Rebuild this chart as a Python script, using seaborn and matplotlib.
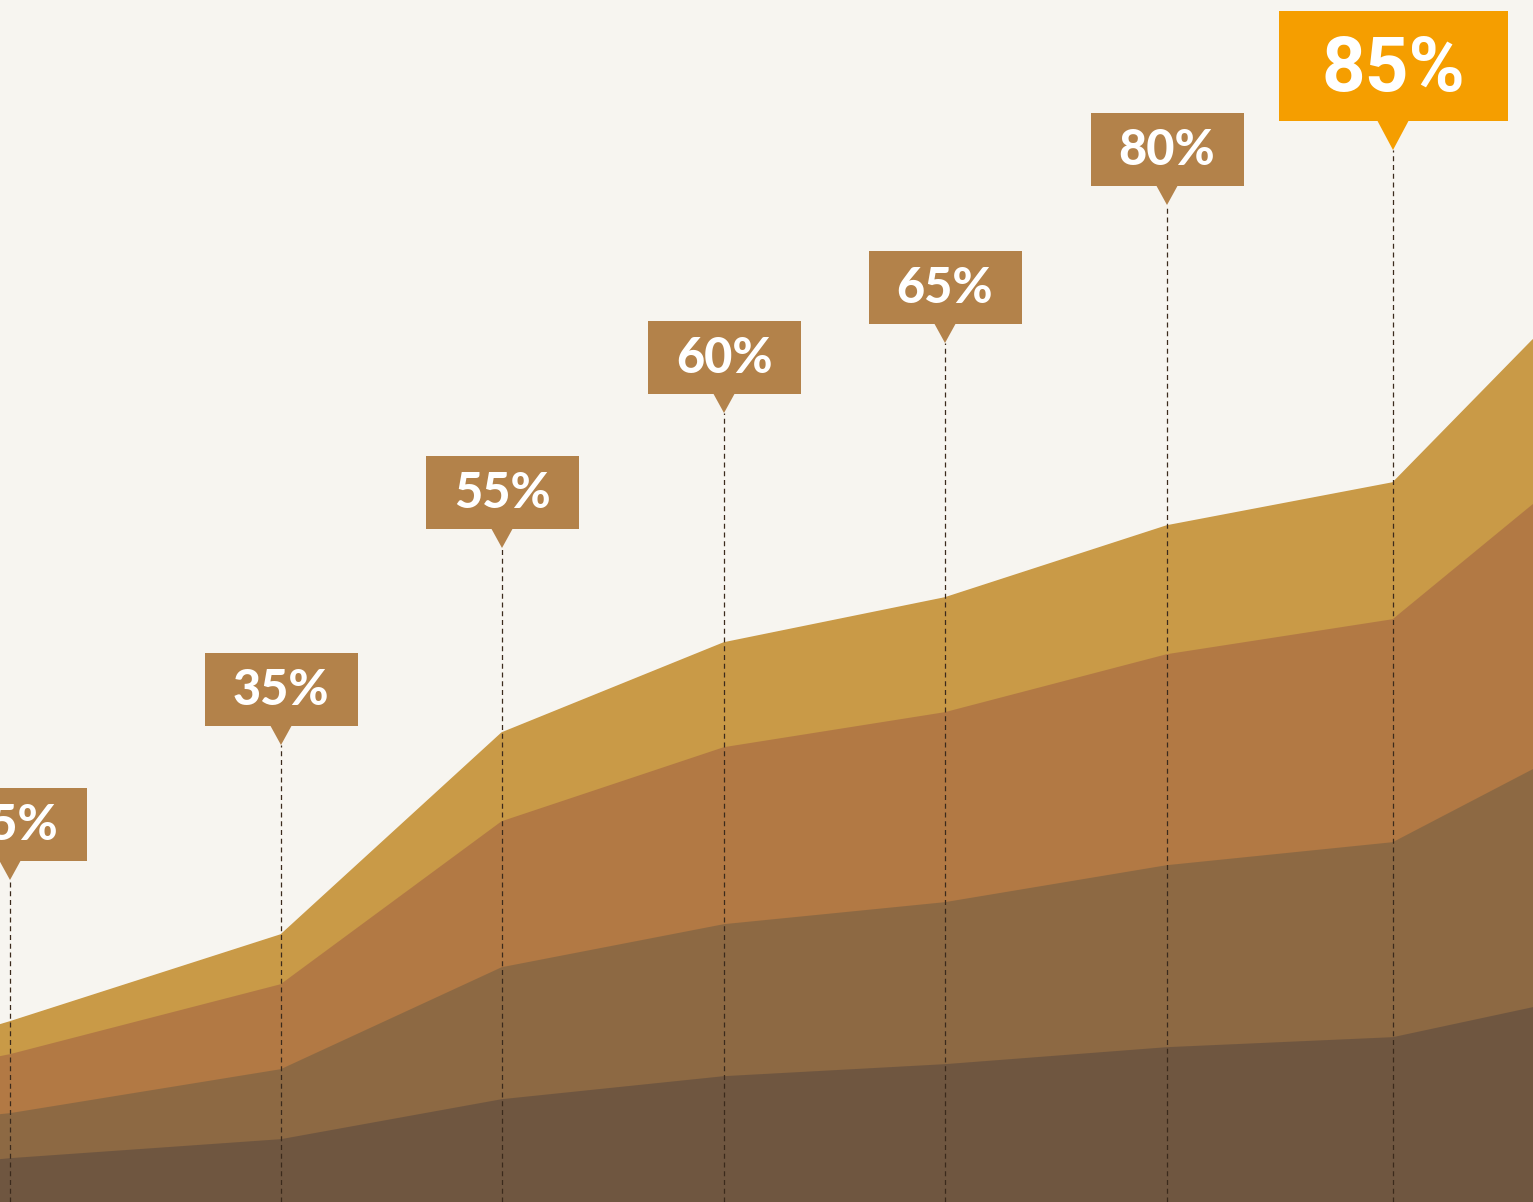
import matplotlib
matplotlib.use("Agg")
import matplotlib.pyplot as plt
import seaborn as sns
import numpy as np
import pandas as pd
from matplotlib.patches import Rectangle, Polygon

# ---- data ----
x_vals = [0, 10, 281, 502, 724, 945, 1167, 1393, 1533]
layer1 = [42, 43, 62, 102, 125, 137, 154, 164, 194]
layer2 = [45, 45, 70, 132, 152, 162, 182, 195, 238]
layer3 = [58, 59, 85, 146, 177, 190, 211, 223, 265]
layer4 = [32, 33, 50, 89, 105, 115, 129, 137, 165]

label_x = [10, 281, 502, 724, 945, 1167, 1393]
label_text = ["25%", "35%", "55%", "60%", "65%", "80%", "85%"]
label_tip = [322, 457, 654, 789, 859, 997, 1052]

layer_colors = ["#6F5640", "#8D6943", "#B27944", "#C99A47"]
bg = "#F7F5F0"
box_color = "#B3824A"
hl_color = "#F59E00"

sns.set_theme(style="white")
plt.rcParams["font.family"] = ["Lato", "DejaVu Sans"]

fig = plt.figure(figsize=(15.33, 12.02), dpi=100, facecolor=bg)
ax = fig.add_axes([0, 0, 1, 1])
ax.set_facecolor(bg)

layers = [layer1, layer2, layer3, layer4]
df = pd.DataFrame({"x": x_vals})
base = np.zeros(len(x_vals))
for i, (lay, col) in enumerate(zip(layers, layer_colors)):
    top = base + np.array(lay)
    ax.fill_between(x_vals, base, top, color=col, linewidth=0, zorder=1 + i * 0.1)
    df[f"top{i}"] = top
    base = top
for i, col in enumerate(layer_colors):
    sns.lineplot(data=df, x="x", y=f"top{i}", ax=ax, color=col, linewidth=1.2, zorder=2)

# dashed guide lines
for xv, tip in zip(label_x, label_tip):
    ax.plot([xv, xv], [0, tip], color="#3B2A1C", linewidth=0.9,
            dashes=(4, 3), zorder=3)

# callout boxes
for i, (xv, txt, tip) in enumerate(zip(label_x, label_text, label_tip)):
    big = (i == len(label_x) - 1)
    if big:
        w, h, th, hw, col, fs, fam, dy, fw = 229, 110, 29, 16, hl_color, 55, ["Roboto", "DejaVu Sans"], -5, "bold"
    else:
        w, h, th, hw, col, fs, fam, dy, fw = 153, 73, 19, 11, box_color, 35, ["Lato", "DejaVu Sans"], -1, "black"
    yb = tip + th
    ax.add_patch(Rectangle((xv - w / 2, yb), w, h, facecolor=col, edgecolor="none", zorder=4))
    ax.add_patch(Polygon([(xv - hw, yb + 1), (xv + hw, yb + 1), (xv, tip)],
                         closed=True, facecolor=col, edgecolor="none", zorder=4))
    ax.text(xv, yb + h / 2 + dy, txt, ha="center", va="center", color="white",
            fontsize=fs, fontweight=fw, family=fam, zorder=5)

ax.set_xlim(0, 1533)
ax.set_ylim(0, 1202)
ax.set_xlabel("")
ax.set_ylabel("")
ax.set_xticks([])
ax.set_yticks([])
for s in ax.spines.values():
    s.set_visible(False)
leg = ax.get_legend()
if leg:
    leg.remove()

fig.savefig("out.png", dpi=100, facecolor=bg)
